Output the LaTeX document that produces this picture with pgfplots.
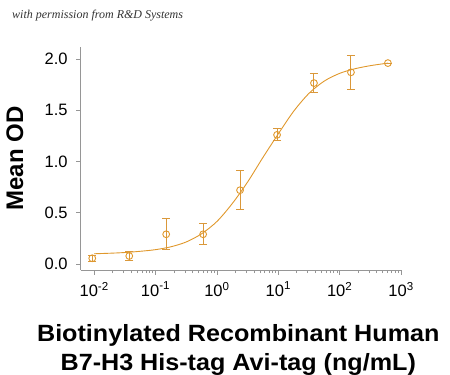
\documentclass[border=0pt]{standalone}
\usepackage{pgfplots}
\pgfplotsset{compat=1.18}
\usepackage{fontspec}
\setmainfont{Liberation Sans}
\newfontfamily\notefont{Liberation Serif}
\newfontfamily\labfont[FakeStretch=1.07]{Liberation Sans}
\definecolor{od}{RGB}{224,152,44}
\definecolor{errc}{RGB}{218,152,58}
\definecolor{axgray}{RGB}{150,150,150}
\begin{document}
\begin{tikzpicture}
\path[use as bounding box] (-80.7pt,-105pt) rectangle (369.3pt,270pt);
\begin{axis}[
  at={(0pt,0pt)}, anchor=south west,
  scale only axis, width=321.6pt, height=223pt,
  xmode=log, xmin=0.00603, xmax=1047,
  ymin=-0.0585, ymax=2.117,
  axis x line*=bottom, axis y line*=left,
  axis line style={draw=axgray, line width=0.9pt},
  every outer x axis line/.append style={-},
  every outer y axis line/.append style={-},
  every inner x axis line/.append style={-},
  every inner y axis line/.append style={-},
  tick align=outside,
  major tick length=4.5pt, minor tick length=3pt,
  tick style={draw=axgray, line width=0.6pt},
  xtick={0.01,0.1,1,10,100,1000},
  xticklabels={10\textsuperscript{-2},10\textsuperscript{-1},10\textsuperscript{0},10\textsuperscript{1},10\textsuperscript{2},10\textsuperscript{3}},
  ytick={0,0.5,1,1.5,2},
  /pgf/number format/fixed,
  /pgf/number format/fixed zerofill,
  /pgf/number format/precision=1,
  /pgf/number format/assume math mode=true,
  tick label style={font=\fontsize{16.5}{19}\selectfont, text=black},
  xticklabel style={yshift=-4pt},
  yticklabel style={xshift=-5pt},
  xlabel={Biotinylated Recombinant Human\\B7-H3 His-tag Avi-tag (ng/mL)},
  xlabel style={at={(axis description cs:0.49,-0.2453)}, anchor=north, align=center, inner sep=0pt, font=\labfont\fontsize{23.5}{28.3}\selectfont\bfseries},
  ylabel={Mean OD},
  ylabel style={at={(axis description cs:-0.205,0.5)}, anchor=center, inner sep=0pt, font=\fontsize{24}{28}\selectfont\bfseries},
  clip=false,
]
\addplot[od, line width=0.9pt, smooth, no marks] coordinates {
  (0.01,0.100) (0.01778,0.105) (0.03162,0.112) (0.05623,0.124)
  (0.1,0.140) (0.1778,0.168) (0.3162,0.215) (0.5623,0.295)
  (1,0.415) (1.778,0.59) (3.162,0.80) (5.623,1.04)
  (10,1.27) (17.78,1.49) (31.62,1.665) (56.23,1.785)
  (100,1.86) (177.8,1.905) (316.2,1.935) (616,1.96)
};
\addplot[od, only marks, mark=o, mark size=3.4pt, line width=0.9pt,
  error bars/.cd, y dir=both, y explicit,
  error bar style={line width=1pt, draw=errc},
  error mark options={rotate=90, mark size=4pt, line width=1pt, draw=errc}]
  table[x=x, y=y, y error=e] {
x       y      e
0.0093  0.056  0.030
0.0373  0.078  0.040
0.149   0.290  0.150
0.596   0.290  0.104
2.38    0.720  0.190
9.54    1.260  0.058
38.1    1.765  0.095
152.6   1.870  0.165
610     1.960  0.000
};
\end{axis}
\node[anchor=base west, inner sep=0pt, font=\notefont\itshape\fontsize{12}{14}\selectfont, text=black!80] at (-68.7pt,251pt) {with permission from R\&D Systems};
\end{tikzpicture}
\end{document}
